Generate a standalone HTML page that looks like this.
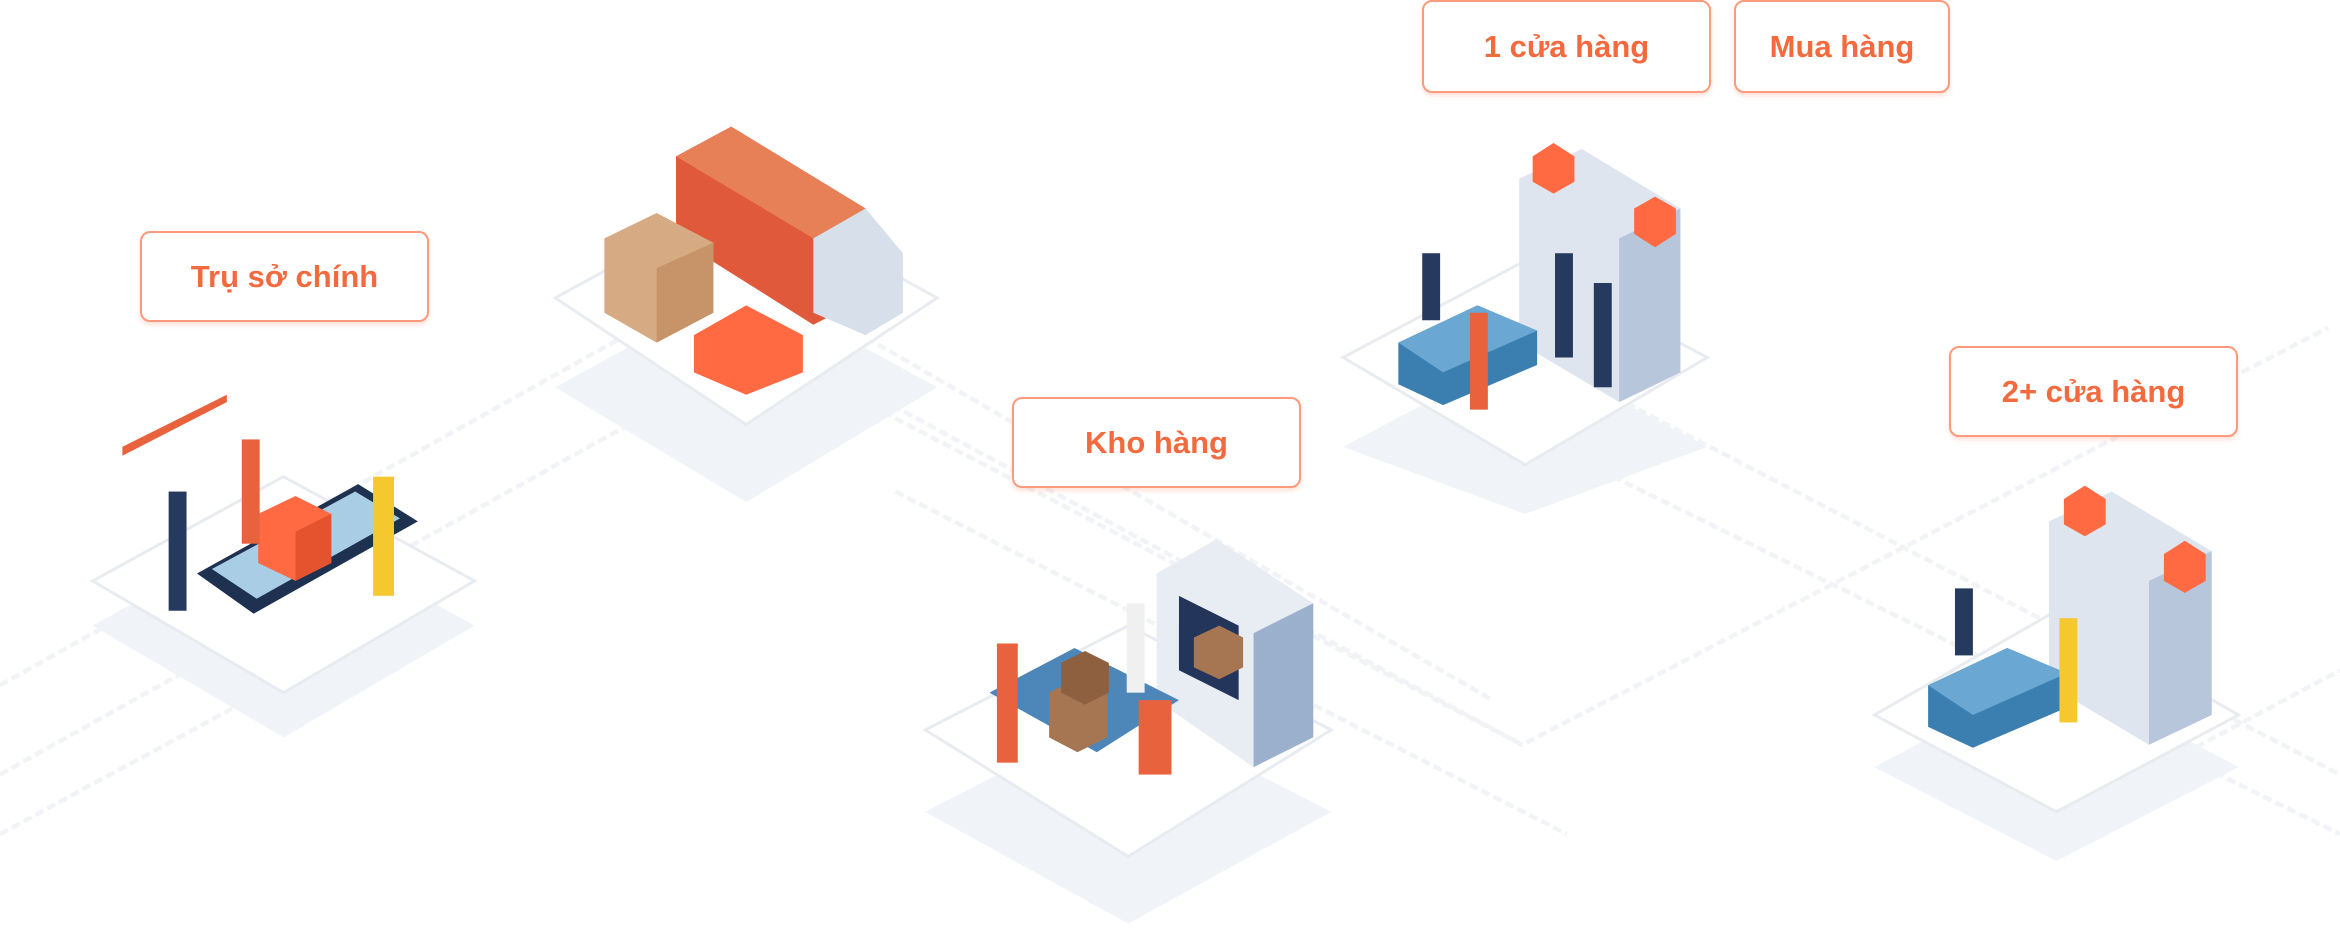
<!DOCTYPE html>
<html><head><meta charset="utf-8"><style>
html,body{margin:0;padding:0;background:#fff;}
body{width:2340px;height:928px;position:relative;overflow:hidden;font-family:"Liberation Sans","Noto Sans CJK SC",sans-serif;}
svg{position:absolute;left:0;top:0;}
.b{position:absolute;box-sizing:border-box;border:2px solid #ff9a7c;border-radius:10px;background:#fff;color:#f46a3f;font-size:31px;font-weight:bold;display:flex;align-items:center;justify-content:center;box-shadow:0 3px 4px rgba(255,140,110,.25);}
</style></head><body>
<svg width="2340" height="928" viewBox="0 0 1568 623" preserveAspectRatio="none">
<g stroke="#f1f3f7" stroke-width="3" fill="none" stroke-dasharray="6 3">
<path d="M0 460 L500 180 L1000 470"/><path d="M0 520 L520 230 L1020 500"/>
<path d="M560 260 L1020 500 L1560 220"/><path d="M600 330 L1050 560"/>
<path d="M1000 280 L1568 560"/><path d="M1050 250 L1568 520"/>
<path d="M0 560 L240 430"/><path d="M1400 540 L1568 450"/>
</g>
<g fill="#f0f3f7">
<path d="M62 420 L190 350 L318 420 L190 495 Z"/>
<path d="M372 260 L500 190 L628 260 L500 337 Z"/>
<path d="M620 545 L756 475 L892 545 L756 620 Z"/>
<path d="M900 300 L1022 235 L1144 300 L1022 345 Z"/>
<path d="M1256 515 L1378 450 L1500 515 L1378 578 Z"/>
</g>
<g fill="#fff" stroke="#e8ecf1" stroke-width="2">
<path d="M62 390 L190 320 L318 390 L190 465 Z"/>
<path d="M372 200 L500 130 L628 200 L500 285 Z"/>
<path d="M620 490 L756 420 L892 490 L756 575 Z"/>
<path d="M900 240 L1022 175 L1144 240 L1022 312 Z"/>
<path d="M1256 480 L1378 410 L1500 480 L1378 545 Z"/>
</g>
<path d="M132 385 L240 325 L280 350 L170 412 Z" fill="#1f3150"/>
<path d="M142 382 L238 330 L268 348 L172 402 Z" fill="#a8cde4"/>
<path d="M173 345 L198 333 L222 345 L222 378 L198 390 L173 378 Z" fill="#ff6a43"/>
<path d="M198 357 L222 345 L222 378 L198 390 Z" fill="#e4532d"/>
<path d="M82 300 L152 265 L152 270 L82 306 Z" fill="#e8633d"/>
<rect x="113" y="330" width="12" height="80" fill="#253a5e"/><rect x="162" y="295" width="12" height="70" fill="#e8633d"/><rect x="250" y="320" width="14" height="80" fill="#f6c830"/>
<path d="M453 105 L490 85 L580 140 L580 200 L545 218 L453 160 Z" fill="#e0593a"/>
<path d="M453 105 L490 85 L580 140 L545 160 Z" fill="#e88057"/>
<path d="M545 160 L580 140 L605 170 L605 210 L580 225 L545 210 Z" fill="#d6dfea"/>
<path d="M405 160 L440 143 L478 163 L478 210 L440 230 L405 210 Z" fill="#d6aa82"/>
<path d="M440 180 L478 163 L478 210 L440 230 Z" fill="#c69468"/>
<path d="M465 225 L500 205 L538 225 L538 250 L500 265 L465 250 Z" fill="#ff6a43"/>
<path d="M775 385 L815 362 L880 405 L880 495 L840 515 L775 470 Z" fill="#e8edf4"/>
<path d="M840 425 L880 405 L880 495 L840 515 Z" fill="#9bb0cc"/>
<path d="M790 400 L830 420 L830 470 L790 450 Z" fill="#23355a"/>
<path d="M800 428 L817 420 L833 428 L833 448 L817 456 L800 448 Z" fill="#a67552"/>
<path d="M663 465 L720 435 L790 470 L735 505 Z" fill="#4d86b8"/>
<path d="M703 465 L722 455 L742 465 L742 495 L722 505 L703 495 Z" fill="#a67552"/>
<path d="M711 445 L727 437 L743 445 L743 465 L727 473 L711 465 Z" fill="#8e6040"/>
<rect x="668" y="432" width="14" height="80" fill="#e8633d"/><rect x="755" y="405" width="12" height="60" fill="#f0f0f0"/><rect x="763" y="470" width="22" height="50" fill="#e8633d"/>
<path d="M1018 120 L1060 100 L1126 140 L1126 250 L1085 270 L1018 230 Z" fill="#dfe5ee"/>
<path d="M1085 160 L1126 140 L1126 250 L1085 270 Z" fill="#b7c6da"/>
<path d="M937 230 L990 205 L1030 222 L1030 245 L967 272 L937 258 Z" fill="#3a7fb0"/>
<path d="M937 230 L990 205 L1030 222 L967 250 Z" fill="#6aa7d3"/>
<path d="M1027 105 L1041 96 L1055 105 L1055 122 L1041 130 L1027 122 Z" fill="#ff6a43"/>
<path d="M1095 140 L1109 132 L1123 140 L1123 157 L1109 166 L1095 157 Z" fill="#ff6a43"/>
<rect x="953" y="170" width="12" height="45" fill="#253a5e"/><rect x="1042" y="170" width="12" height="70" fill="#253a5e"/><rect x="1068" y="190" width="12" height="70" fill="#253a5e"/><rect x="985" y="210" width="12" height="65" fill="#e8633d"/>
<path d="M1373 350 L1415 330 L1482 370 L1482 480 L1440 500 L1373 460 Z" fill="#dfe5ee"/>
<path d="M1440 390 L1482 370 L1482 480 L1440 500 Z" fill="#b7c6da"/>
<path d="M1292 460 L1345 435 L1385 452 L1385 475 L1322 502 L1292 488 Z" fill="#3a7fb0"/>
<path d="M1292 460 L1345 435 L1385 452 L1322 480 Z" fill="#6aa7d3"/>
<path d="M1383 335 L1397 326 L1411 335 L1411 352 L1397 360 L1383 352 Z" fill="#ff6a43"/>
<path d="M1450 372 L1464 363 L1478 372 L1478 390 L1464 398 L1450 390 Z" fill="#ff6a43"/>
<rect x="1310" y="395" width="12" height="45" fill="#253a5e"/><rect x="1380" y="415" width="12" height="70" fill="#f6c830"/>
</svg>
<div class="b" style="left:140px;top:231px;width:289px;height:91px;">Trụ sở chính</div>
<div class="b" style="left:1422px;top:0px;width:289px;height:93px;">1 cửa hàng</div>
<div class="b" style="left:1734px;top:0px;width:216px;height:93px;">Mua hàng</div>
<div class="b" style="left:1012px;top:397px;width:289px;height:91px;">Kho hàng</div>
<div class="b" style="left:1949px;top:346px;width:289px;height:91px;">2+ cửa hàng</div>
</body></html>
